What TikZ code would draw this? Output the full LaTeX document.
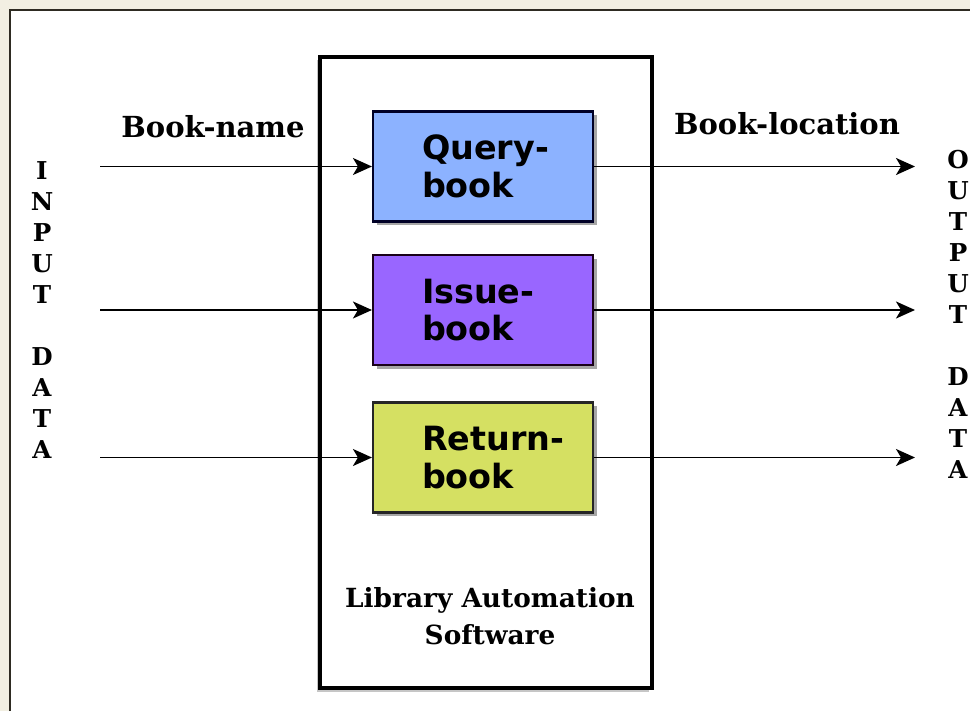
\documentclass[tikz,border=0pt]{standalone}
\usepackage{xcolor}
\usepackage{fontspec}
\usetikzlibrary{arrows.meta,shadows}
\newfontfamily\boxfont{DejaVu Sans}
\newfontfamily\labelfont{DejaVu Serif}

\definecolor{pagebg}{HTML}{F2EFE2}
\definecolor{framecol}{HTML}{2E2B22}
\definecolor{queryblue}{HTML}{8CB2FF}
\definecolor{issuepurple}{HTML}{9966FF}
\definecolor{returnlime}{HTML}{D5E062}

\tikzset{
    procbox/.style={draw, line width=1.2pt, minimum width=4.4cm, minimum height=2.2cm,
        text width=2.44cm, inner xsep=0.98cm, align=left,
        font=\boxfont\bfseries\fontsize{19}{21.5}\selectfont,
        drop shadow={shadow xshift=0.07cm, shadow yshift=-0.07cm, fill=gray!70, opacity=1}},
    flow/.style={line width=1.1pt, -{Stealth[length=0.38cm,width=0.34cm,inset=0.1cm]}},
    tag/.style={font=\labelfont\bfseries\fontsize{16.5}{19}\selectfont},
    column/.style={font=\labelfont\bfseries\fontsize{14}{17.6}\selectfont, align=center}
}

\begin{document}
\begin{tikzpicture}
    \useasboundingbox (0,0) rectangle (19.4,14.22);
    % page and frame
    \fill[pagebg] (0,0) rectangle (19.4,14.22);
    \fill[white] (0.2,0) rectangle (19.4,14.02);
    \draw[framecol, line width=1.3pt] (0.2,0) -- (0.2,14.02) -- (19.4,14.02);

    % software box
    \fill[gray!45] (6.34,0.38) rectangle (12.98,13.02);
    \node[draw, line width=1.8pt, fill=white, minimum width=6.64cm, minimum height=12.62cm]
        (soft) at (9.72,6.77) {};
    \node[align=center, font=\labelfont\bfseries\fontsize{15}{21}\selectfont]
        (softname) at (9.8,1.9) {Library Automation\\Software};

    % process boxes
    \node[procbox, fill=queryblue, draw=black!85!blue] (query) at (9.66,10.89) {\mbox{Query-}\\book};
    \node[procbox, fill=issuepurple, draw=black!80!violet] (issue) at (9.66,8.02) {\mbox{Issue-}\\book};
    \node[procbox, fill=returnlime, draw=black!85] (return) at (9.66,5.07) {\mbox{Return-}\\book};

    % free ends of the arrows
    \coordinate (in1) at (2.0,10.89);
    \coordinate (in2) at (2.0,8.02);
    \coordinate (in3) at (2.0,5.07);
    \coordinate (out1) at (18.3,10.89);
    \coordinate (out2) at (18.3,8.02);
    \coordinate (out3) at (18.3,5.07);

    \draw[flow] (in1) -- (query);
    \draw[flow] (in2) -- (issue);
    \draw[flow] (in3) -- (return);
    \draw[flow] (query) -- (out1);
    \draw[flow] (issue) -- (out2);
    \draw[flow] (return) -- (out3);

    % labels
    \node[tag] (bookname) at (4.26,11.68) {Book-name};
    \node[tag] (bookloc) at (15.74,11.74) {Book-location};
    \node[column] (indata) at (0.84,8.02) {I\\N\\P\\U\\T\\[17.6pt]D\\A\\T\\A};
    \node[column] (outdata) at (19.16,7.93) {O\\U\\T\\P\\U\\T\\[17.6pt]D\\A\\T\\A};
\end{tikzpicture}
\end{document}
